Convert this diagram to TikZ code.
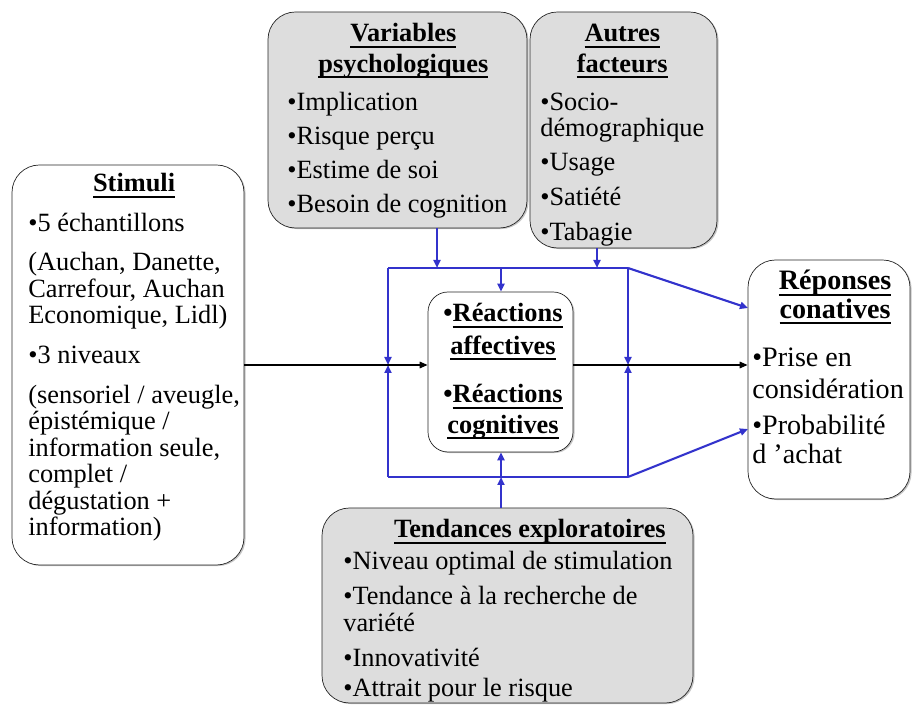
\documentclass[tikz,border=0pt]{standalone}
\usepackage{fontspec}
\setmainfont{Liberation Serif}
\usepackage{tikz}
\usetikzlibrary{arrows.meta,fit,shadows}
\definecolor{bleu}{HTML}{3333CC}
\definecolor{gris}{HTML}{DDDDDD}
\newcommand{\souligne}[1]{\setbox0\hbox{#1}\rlap{\rule[-3.4pt]{\wd0}{1pt}}\box0}
\newcommand{\titre}[1]{\textbf{\souligne{#1}}}
\tikzset{
  boite/.style={draw=black!85, thin, fill=white, rounded corners=0.55cm, inner sep=0pt,
                drop shadow={shadow xshift=0.9pt, shadow yshift=-0.6pt, fill=black!45}},
  boitegrise/.style={boite, fill=gris},
  texte/.style={anchor=base west, inner sep=0pt, font=\fontsize{15}{15.1}\selectfont},
  lb/.style={draw=bleu, line width=1.2pt},                                   % blue line
  fb/.style={lb, -{Triangle[length=1.6mm, width=1.4mm]}},                     % blue arrow
  fn/.style={draw=black, line width=0.9pt, -{Triangle[length=1.6mm, width=1.3mm]}}, % black arrow
}

\begin{document}
\begin{tikzpicture}[x=0.02cm, y=-0.02cm]
  \useasboundingbox (0,0) rectangle (913,705);
  % boxes
  \node[boite, fit={(12,165) (244,565)}] (stim) {};
  \node[boitegrise, fit={(268,12) (527,228)}] (var) {};
  \node[boitegrise, fit={(530,12) (717,248)}] (autres) {};
  \node[boite, rounded corners=0.4cm, fit={(428,292) (573,452)}] (react) {};
  \node[boite, fit={(748,260) (910,499)}] (rep) {};
  \node[boitegrise, fit={(322,508) (693,703)}] (tend) {};
  % texts
  \node[texte] (stimt) at (28,192) {\begin{tabular}[t]{@{}l@{}}
    \multicolumn{1}{@{}c@{}}{\titre{Stimuli}}\\[7.5pt]
    •5 échantillons\\[7pt]
    (Auchan, Danette,\\
    Carrefour, Auchan\\
    Economique, Lidl)\\[7.5pt]
    •3 niveaux\\[7.5pt]
    (sensoriel / aveugle,\\
    épistémique /\\
    information seule,\\
    complet /\\
    dégustation +\\
    information)
  \end{tabular}};
  \node[texte] (vart) at (287,42) {\begin{tabular}[t]{@{}l@{}}
    \multicolumn{1}{@{}c@{}}{\hspace*{0.24cm}\titre{Variables}}\\[2pt]
    \multicolumn{1}{@{}c@{}}{\hspace*{0.24cm}\titre{psychologiques}}\\[6.8pt]
    •Implication\\[4.3pt]
    •Risque perçu\\[4.3pt]
    •Estime de soi\\[4.3pt]
    •Besoin de cognition
  \end{tabular}};
  \node[texte] (autrest) at (540,42) {\begin{tabular}[t]{@{}l@{}}
    \multicolumn{1}{@{}c@{}}{\titre{Autres}}\\[2pt]
    \multicolumn{1}{@{}c@{}}{\titre{facteurs}}\\[6.8pt]
    •Socio-\\[-0.5pt]
    démographique\\[4.6pt]
    •Usage\\[4.6pt]
    •Satiété\\[4.8pt]
    •Tabagie
  \end{tabular}};
  \node[texte, anchor=base] (reactt) at (503,322) {\begin{tabular}[t]{@{}c@{}}
    \textbf{•\souligne{Réactions}}\\[3.2pt]
    \titre{affectives}\\[12.5pt]
    \textbf{•\souligne{Réactions}}\\[2.3pt]
    \titre{cognitives}
  \end{tabular}};
  \node[texte, font=\fontsize{16}{18}\selectfont] (rept) at (752,290) {\begin{tabular}[t]{@{}l@{}}
    \multicolumn{1}{@{}c@{}}{\hspace*{0.28cm}\titre{Réponses}}\\[-2pt]
    \multicolumn{1}{@{}c@{}}{\hspace*{0.28cm}\titre{conatives}}\\[9.5pt]
    •Prise en\\[0.5pt]
    considération\\[2pt]
    •Probabilité\\[-1pt]
    d ’achat
  \end{tabular}};
  \node[texte] (tendt) at (343,538) {\begin{tabular}[t]{@{}l@{}}
    \multicolumn{1}{@{}c@{}}{\hspace*{0.88cm}\titre{Tendances exploratoires}}\\[3.1pt]
    •Niveau optimal de stimulation\\[4.8pt]
    •Tendance à la recherche de\\
    variété\\[4.8pt]
    •Innovativité\\[1.9pt]
    •Attrait pour le risque
  \end{tabular}};
  % blue frame round the reactions
  \coordinate (hautG) at (388,268);
  \coordinate (hautD) at (628,268);
  \coordinate (basG)  at (388,477);
  \coordinate (basD)  at (628,477);
  \coordinate (milG)  at (388,365);
  \coordinate (milD)  at (628,365);
  \coordinate (pv) at (437,268);
  \coordinate (pa) at (597,268);
  \coordinate (pc) at (501,268);
  \coordinate (pt) at (501,477);
  \coordinate (rh) at (748,308);
  \coordinate (rb) at (748,429);
  \draw[lb] (hautG) -- (hautD);
  \draw[lb] (basG) -- (basD);
  \foreach \u/\v in {hautG/milG, basG/milG, hautD/milD, basD/milD, hautD/rh, basD/rb}
    \draw[fb] (\u) -- (\v);
  \draw[fb] (var.south -| pv) -- (pv);
  \draw[fb] (autres.south -| pa) -- (pa);
  \draw[fb] (pc) -- (pc |- react.north);
  \draw[fb] (tend.north -| pt) -- (pt);
  \draw[fb] (pt) -- (pt |- react.south);
  % main flow
  \draw[fn] (stim.east |- milG) -- (milG -| react.west);
  \draw[fn] (react.east |- milD) -- (milD -| rep.west);
\end{tikzpicture}
\end{document}
